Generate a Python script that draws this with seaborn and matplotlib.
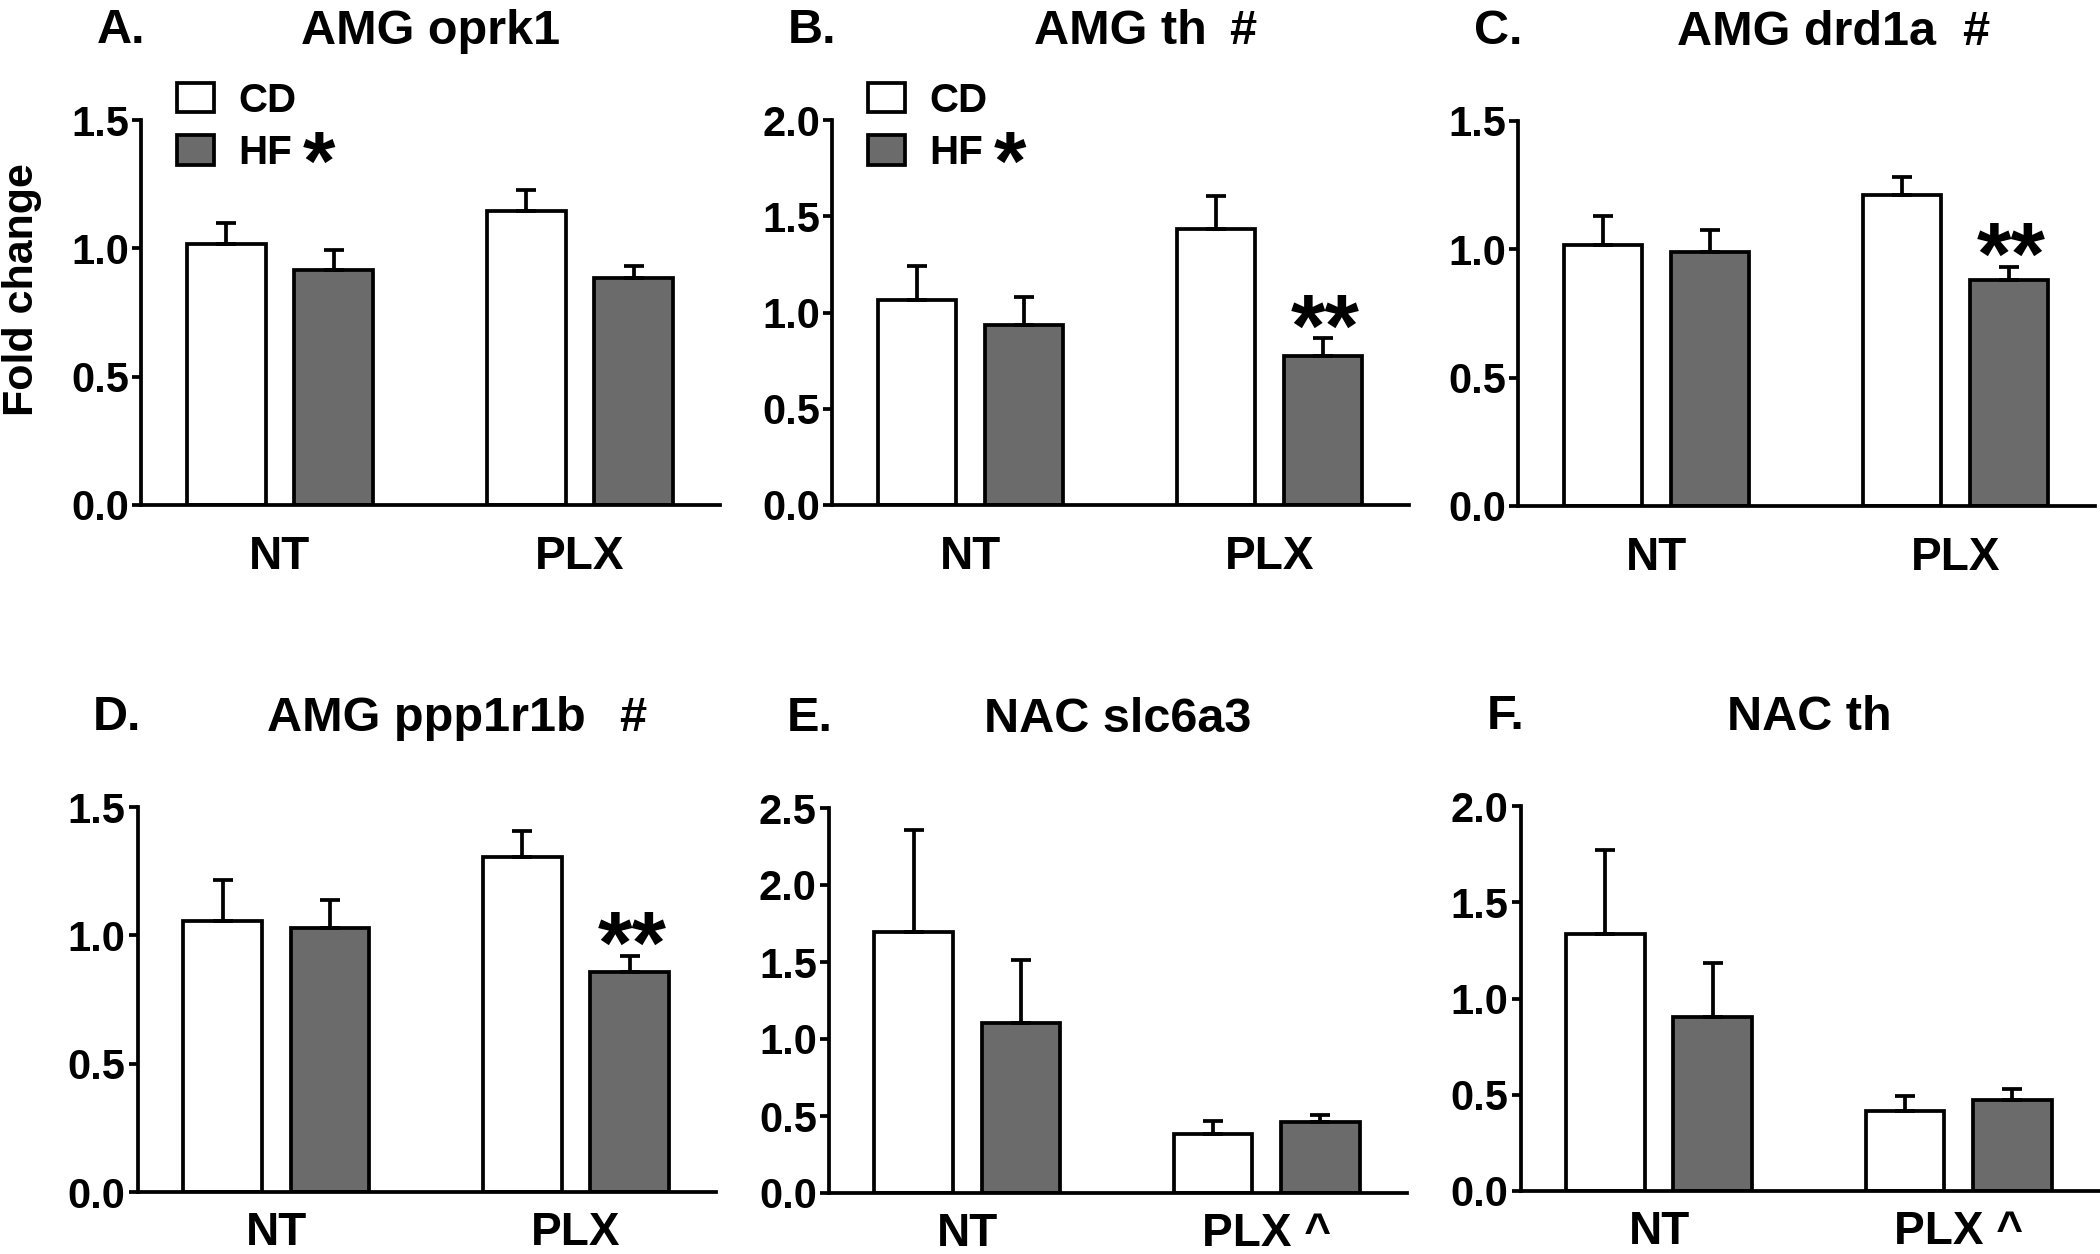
import matplotlib
matplotlib.use("Agg")
import matplotlib.pyplot as plt
from matplotlib.textpath import TextPath
from matplotlib.font_manager import FontProperties
import seaborn as sns
import pandas as pd

# ---------------- data ----------------
groups = ["NT", "PLX"]
diets = ["CD", "HF"]

# A. AMG oprk1
a_cd_mean = [1.017, 1.147]
a_hf_mean = [0.916, 0.884]
a_cd_sem = [0.083, 0.079]
a_hf_sem = [0.076, 0.046]
# B. AMG th
b_cd_mean = [1.063, 1.433]
b_hf_mean = [0.937, 0.773]
b_cd_sem = [0.181, 0.173]
b_hf_sem = [0.144, 0.092]
# C. AMG drd1a
c_cd_mean = [1.017, 1.212]
c_hf_mean = [0.990, 0.879]
c_cd_sem = [0.111, 0.070]
c_hf_sem = [0.085, 0.053]
# D. AMG ppp1r1b
d_cd_mean = [1.054, 1.306]
d_hf_mean = [1.028, 0.858]
d_cd_sem = [0.160, 0.102]
d_hf_sem = [0.110, 0.062]
# E. NAC slc6a3
e_cd_mean = [1.695, 0.385]
e_hf_mean = [1.103, 0.461]
e_cd_sem = [0.665, 0.081]
e_hf_sem = [0.408, 0.044]
# F. NAC th
f_cd_mean = [1.337, 0.414]
f_hf_mean = [0.903, 0.471]
f_cd_sem = [0.437, 0.077]
f_hf_sem = [0.279, 0.061]

titles = ["AMG oprk1", "AMG th", "AMG drd1a", "AMG ppp1r1b", "NAC slc6a3", "NAC th"]
title_marks = ["", "#", "#", "#", "", ""]
letters = ["A.", "B.", "C.", "D.", "E.", "F."]
xtick_labels = [["NT", "PLX"], ["NT", "PLX"], ["NT", "PLX"],
                ["NT", "PLX"], ["NT", "PLX ^"], ["NT", "PLX ^"]]
y_max = [1.5, 2.0, 1.5, 1.5, 2.5, 2.0]
hf_plx_marks = ["", "**", "**", "**", "", ""]
show_legend = [True, True, False, False, False, False]
legend_labels = ["CD", "HF"]
legend_mark = "*"
y_label = "Fold change"

cd_means = [a_cd_mean, b_cd_mean, c_cd_mean, d_cd_mean, e_cd_mean, f_cd_mean]
hf_means = [a_hf_mean, b_hf_mean, c_hf_mean, d_hf_mean, e_hf_mean, f_hf_mean]
cd_sems = [a_cd_sem, b_cd_sem, c_cd_sem, d_cd_sem, e_cd_sem, f_cd_sem]
hf_sems = [a_hf_sem, b_hf_sem, c_hf_sem, d_hf_sem, e_hf_sem, f_hf_sem]

# ---------------- style ----------------
sns.set_theme(style="ticks")
plt.rcParams["font.family"] = ["Liberation Sans", "DejaVu Sans"]
plt.rcParams["font.weight"] = "bold"
plt.rcParams["axes.titleweight"] = "bold"
plt.rcParams["axes.labelweight"] = "bold"
for k in ["text.color", "axes.labelcolor", "xtick.color", "ytick.color", "axes.edgecolor"]:
    plt.rcParams[k] = "black"

W, H = 2100, 1254
PX = 0.72  # points per pixel at dpi 100
fig = plt.figure(figsize=(W / 100, H / 100), dpi=100, facecolor="white")

LW = 2.7
GREY = "#6b6b6b"
palette = {"CD": "white", "HF": GREY}

TITLE_FS = 35
YTICK_FS = 30
XTICK_FS = 33
LEG_FS = 29
YLAB_FS = 31

fp = FontProperties(family="Liberation Sans", weight="bold")
star_ext = TextPath((0, 0), "*", size=1, prop=fp).get_extents()
lp_desc = -TextPath((0, 0), "lp", size=1, prop=fp).get_extents().y0
star_h = star_ext.y1 - star_ext.y0
bar_star_size = 33 * PX / star_h
leg_star_size = 31 * PX / star_h

# axes placement in pixels: (left, zero-line y, width)
axes_px = [(141, 505, 579), (832, 505, 577), (1518, 506, 577),
           (137.5, 1192, 578.5), (828.6, 1193, 578), (1520.5, 1191, 578)]
AX_H = 385
mark_gaps = [0, 16, 19, 24, 0, 0]      # points between title and '#'
xlabel_pads = [21.6, 21.6, 21.6, 14, 14, 14]

for i in range(6):
    x0, y0, w = axes_px[i]
    ax = fig.add_axes([x0 / W, 1 - y0 / H, w / W, AX_H / H])
    df = pd.DataFrame({
        "group": groups * 2,
        "diet": ["CD"] * 2 + ["HF"] * 2,
        "value": list(cd_means[i]) + list(hf_means[i]),
    })
    sns.barplot(data=df, x="group", y="value", hue="diet", order=groups,
                hue_order=diets, palette=palette, saturation=1,
                width=0.717, gap=0.267, edgecolor="black", linewidth=LW,
                errorbar=None, legend=show_legend[i], ax=ax)

    # one-sided SEM error bars at the bar centres
    tops = {}
    for cont, sems, diet in zip(ax.containers, [cd_sems[i], hf_sems[i]], diets):
        xs = [b.get_x() + b.get_width() / 2 for b in cont]
        ys = [b.get_height() for b in cont]
        ax.errorbar(xs, ys, yerr=[[0] * len(sems), sems], fmt="none",
                    ecolor="black", elinewidth=LW, capsize=7.5, capthick=LW,
                    zorder=3)
        tops[diet] = [(x, y + s) for x, y, s in zip(xs, ys, sems)]

    if hf_plx_marks[i]:
        xs, yt = tops["HF"][1]
        ax.annotate(hf_plx_marks[i], xy=(xs, yt), xycoords="data",
                    xytext=(1.5, 11 * PX - star_ext.y0 * bar_star_size),
                    textcoords="offset points", ha="center", va="baseline",
                    fontsize=bar_star_size, zorder=10)

    ymax = y_max[i]
    nt = int(round(ymax / 0.5)) + 1
    ticks = [0.5 * k for k in range(nt)]
    ax.set_ylim(0, ymax)
    ax.set_yticks(ticks)
    ax.set_yticklabels([f"{t:.1f}" for t in ticks])
    ax.set_xlim(-0.463, 1.467)
    ax.set_xticks([0, 1])
    ax.set_xticklabels(xtick_labels[i])
    ax.set_xlabel("")
    ax.set_ylabel("")
    for s in ["top", "right"]:
        ax.spines[s].set_visible(False)
    for s in ["left", "bottom"]:
        ax.spines[s].set_linewidth(LW)
        ax.spines[s].set_color("black")
    ax.tick_params(axis="x", length=0, pad=xlabel_pads[i], labelsize=XTICK_FS)
    ax.tick_params(axis="y", length=6.5, width=LW, pad=2, labelsize=YTICK_FS)
    ax.set_facecolor("white")

    ttl = ax.set_title(titles[i], fontsize=TITLE_FS, pad=55)
    if title_marks[i]:
        ax.annotate(title_marks[i], xy=(1, 0), xycoords=ttl,
                    xytext=(mark_gaps[i], 0), textcoords="offset points",
                    ha="left", va="bottom", fontsize=TITLE_FS, zorder=10)
    ax.text(4 / w, 1 + 77 / AX_H, letters[i], transform=ax.transAxes,
            ha="right", va="baseline", fontsize=TITLE_FS)

    if show_legend[i]:
        old = ax.get_legend()
        handles = old.legend_handles
        old.remove()
        leg = ax.legend(handles, legend_labels, loc="upper left",
                        bbox_to_anchor=(0.062, 1.10), frameon=False,
                        fontsize=LEG_FS, handlelength=0.93, handleheight=0.75,
                        handletextpad=0.6, labelspacing=0.36, borderpad=0,
                        borderaxespad=0)
        for h in leg.legend_handles:
            h.set_edgecolor("black")
            h.set_linewidth(LW)
        hf_text = leg.get_texts()[1]
        ax.annotate(legend_mark, xy=(1, 0), xycoords=hf_text,
                    xytext=(8 - star_ext.x0 * leg_star_size,
                            lp_desc * LEG_FS - star_ext.y0 * leg_star_size),
                    textcoords="offset points", ha="left", va="baseline",
                    fontsize=leg_star_size, zorder=10)

# shared y-axis label at the far left (centre at x=22 px, y=290 px)
fig.text(22 / W, 1 - 290 / H, y_label, rotation=90, ha="center", va="center",
         fontsize=YLAB_FS, fontweight="bold")

fig.savefig("out.png", dpi=100, facecolor="white")
